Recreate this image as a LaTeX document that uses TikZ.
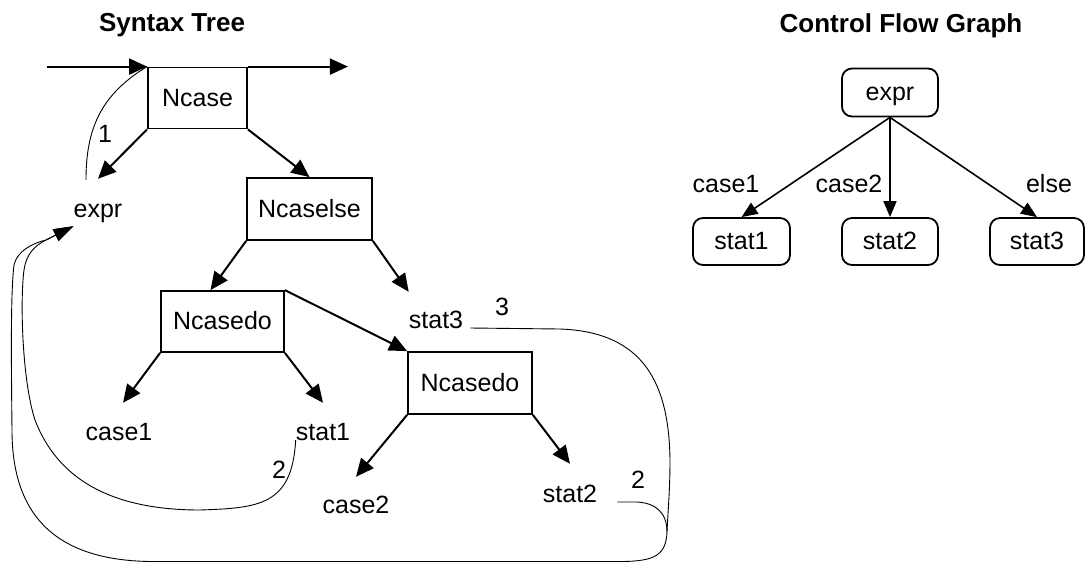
\documentclass[tikz,border=0pt]{standalone}
\usepackage{fontspec}
\setmainfont{Liberation Sans}
\usepackage{tikz}
\usetikzlibrary{arrows.meta, calc}
\tikzstyle{astnode} = [rectangle, draw, line width=1.8pt, minimum height=61pt,
    text height=18pt, text depth=2pt]
\tikzstyle{leaf} = [inner sep=0pt, text height=18pt, text depth=2pt, anchor=base]
\tikzstyle{cfgnode} = [rectangle, draw, rounded corners=10pt, line width=1.8pt,
    minimum width=96pt, minimum height=48pt, text height=18pt, text depth=2pt]
\tikzstyle{title} = [anchor=base, font=\fontsize{26}{30}\selectfont\bfseries]
\tikzstyle{line} = [draw, line width=2pt, -{Triangle[length=18pt, width=16pt]}]
\tikzstyle{cfgline} = [draw, line width=1.6pt, -{Triangle[length=16pt, width=13pt]}]
\tikzstyle{link} = [draw, line width=0.9pt]

\begin{document}
\begin{tikzpicture}[x=1pt, y=-1pt, font=\fontsize{25}{30}\selectfont]
    \useasboundingbox (0,0) rectangle (1085,563);
    % Titles
    \node[title] (syntitle) at (172,31) {Syntax Tree};
    \node[title] (cfgtitle) at (901,32) {Control Flow Graph};

    % Syntax tree nodes
    \node[astnode, minimum width=99pt] (ncase) at (197.5,98) {Ncase};
    \node[astnode, minimum width=125pt, minimum height=62pt] (ncaselse) at (309.5,209) {Ncaselse};
    \node[astnode, minimum width=123pt] (ncasedoA) at (222.5,321.5) {Ncasedo};
    \node[astnode, minimum width=124pt, minimum height=62pt] (ncasedoB) at (470,383) {Ncasedo};
    \node[leaf] (expr) at (98,217) {expr};
    \node[leaf] (case1) at (119,440) {case1};
    \node[leaf] (stat1) at (323,440) {stat1};
    \node[leaf] (stat3) at (436,328) {stat3};
    \node[leaf] (case2) at (356,513) {case2};
    \node[leaf] (stat2) at (570,502) {stat2};
    \node[leaf] (one) at (105,142) {1};
    \node[leaf] (twoA) at (279,478) {2};
    \node[leaf] (three) at (502,315) {3};
    \node[leaf] (twoB) at (638,488) {2};
    \coordinate (merge) at (667,532);

    % Syntax tree edges
    \path[line] ([xshift=-100pt]ncase.north west) -- (ncase.north west);
    \path[line] (ncase.north east) -- ([xshift=100pt]ncase.north east);
    \path[line] (ncase.south west) -- ([yshift=20pt]expr.north);
    \path[line] (ncase.south east) -- (ncaselse.north);
    \path[line] (ncaselse.south west) -- ([xshift=-12pt]ncasedoA.north);
    \path[line] (ncaselse.south east) -- ([yshift=18pt]stat3.north west);
    \path[line] (ncasedoA.south west) -- ([xshift=4pt, yshift=19pt]case1.north);
    \path[line] (ncasedoA.south east) -- ([yshift=19pt]stat1.north);
    \path[line] (ncasedoA.north east) -- (ncasedoB.north west);
    \path[line] (ncasedoB.south west) -- ([yshift=18pt]case2.north);
    \path[line] (ncasedoB.south east) -- ([yshift=20pt]stat2.north);

    % Evaluation order
    \path[link] ([xshift=-12pt, yshift=19pt]expr.north)
        .. controls (86,130) and (100,95) .. (ncase.north west);
    \path[link, -{Triangle[length=20pt, width=13pt]}] (stat1.base west)
        .. controls (292,505) and (260,508) .. (200,510)
        .. controls (120,510) and (60,485) .. (35,420)
        .. controls (22,380) and (20,300) .. (24,270)
        .. controls (26,255) and (34,246) .. (46,240)
        -- ([yshift=-7pt]expr.south west);
    \path[link, -{Triangle[length=20pt, width=13pt]}] ([xshift=7pt]stat3.base east)
        -- (560,329) .. controls (645,332) and (669,385) .. (670,460)
        .. controls (670,490) and (668,510) .. (merge)
        .. controls (666,555) and (655,561.5) .. (620,561.5) -- (150,561.5)
        .. controls (50,560) and (12,510) .. (12,430)
        .. controls (11,340) and (11,290) .. (14,265)
        .. controls (17,252) and (30,244) .. (46,240)
        -- ([yshift=-7pt]expr.south west);
    \path[link] ([xshift=20pt]stat2.base east) -- (637,502)
        .. controls (655,503) and (667,512) .. (merge);

    % Control flow graph
    \node[cfgnode] (cexpr) at (890,92.5) {expr};
    \node[cfgnode, minimum width=97pt, minimum height=47pt] (cstat1) at (741.5,241.5) {stat1};
    \node[cfgnode, minimum height=47pt] (cstat2) at (890,241.5) {stat2};
    \node[cfgnode, minimum width=94pt, minimum height=47pt] (cstat3) at (1037,241.5) {stat3};
    \node[leaf] (lcase1) at (726,192) {case1};
    \node[leaf] (lcase2) at (849,192) {case2};
    \node[leaf] (lelse) at (1049,192) {else};
    \path[cfgline] (cexpr.south) -- (cstat1.north);
    \path[cfgline] (cexpr.south) -- (cstat2.north);
    \path[cfgline] (cexpr.south) -- (cstat3.north);
\end{tikzpicture}
\end{document}
